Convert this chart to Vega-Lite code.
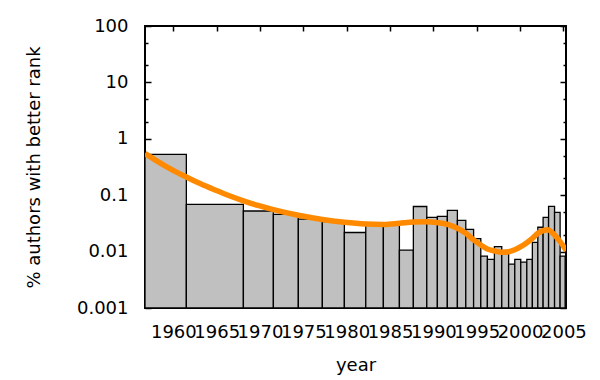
{
  "$schema": "https://vega.github.io/schema/vega-lite/v6.json",
  "width": 421,
  "height": 282,
  "autosize": "none",
  "padding": {"left": 145, "top": 26, "right": 34, "bottom": 72},
  "background": "white",
  "config": {
    "view": {"stroke": "black", "strokeWidth": 2},
    "font": "DejaVu Sans",
    "axis": {
      "labelFont": "DejaVu Sans",
      "titleFont": "DejaVu Sans",
      "labelFontSize": 18,
      "titleFontSize": 18,
      "titleFontWeight": "normal",
      "labelColor": "black",
      "titleColor": "black",
      "tickColor": "black",
      "tickWidth": 1.5,
      "domain": false,
      "grid": false,
      "labelOverlap": false,
      "labelFlush": false
    }
  },
  "datasets": {
    "bars": [
      {"start": 1956.73, "end": 1961.5, "value": 0.53},
      {"start": 1961.5, "end": 1968.08, "value": 0.069},
      {"start": 1968.08, "end": 1971.54, "value": 0.0525},
      {"start": 1971.54, "end": 1974.42, "value": 0.0458},
      {"start": 1974.42, "end": 1977.19, "value": 0.0375},
      {"start": 1977.19, "end": 1979.73, "value": 0.034},
      {"start": 1979.73, "end": 1982.2, "value": 0.0218},
      {"start": 1982.2, "end": 1984.23, "value": 0.0296},
      {"start": 1984.23, "end": 1986.08, "value": 0.031},
      {"start": 1986.08, "end": 1987.69, "value": 0.0106},
      {"start": 1987.69, "end": 1989.24, "value": 0.063},
      {"start": 1989.24, "end": 1990.46, "value": 0.0406},
      {"start": 1990.46, "end": 1991.61, "value": 0.0422},
      {"start": 1991.61, "end": 1992.77, "value": 0.054},
      {"start": 1992.77, "end": 1993.74, "value": 0.0359},
      {"start": 1993.74, "end": 1994.64, "value": 0.0248},
      {"start": 1994.64, "end": 1995.47, "value": 0.017},
      {"start": 1995.47, "end": 1996.23, "value": 0.0083},
      {"start": 1996.23, "end": 1997.04, "value": 0.0073},
      {"start": 1997.04, "end": 1997.89, "value": 0.0123},
      {"start": 1997.89, "end": 1998.68, "value": 0.0104},
      {"start": 1998.68, "end": 1999.39, "value": 0.006},
      {"start": 1999.39, "end": 2000.08, "value": 0.0073},
      {"start": 2000.08, "end": 2000.78, "value": 0.0065},
      {"start": 2000.78, "end": 2001.42, "value": 0.0073},
      {"start": 2001.42, "end": 2002.05, "value": 0.0146},
      {"start": 2002.05, "end": 2002.66, "value": 0.027},
      {"start": 2002.66, "end": 2003.29, "value": 0.0406},
      {"start": 2003.29, "end": 2003.98, "value": 0.0636},
      {"start": 2003.98, "end": 2004.62, "value": 0.0498},
      {"start": 2004.62, "end": 2005.2, "value": 0.0083}
    ],
    "curve": [
      {"year": 1956.73, "value": 0.549},
      {"year": 1957.89, "value": 0.424},
      {"year": 1959.04, "value": 0.332},
      {"year": 1960.19, "value": 0.265},
      {"year": 1961.5, "value": 0.210},
      {"year": 1963.08, "value": 0.161},
      {"year": 1964.81, "value": 0.124},
      {"year": 1966.54, "value": 0.0968},
      {"year": 1968.08, "value": 0.0796},
      {"year": 1969.77, "value": 0.0657},
      {"year": 1971.54, "value": 0.0553},
      {"year": 1974.42, "value": 0.0440},
      {"year": 1977.19, "value": 0.0371},
      {"year": 1979.73, "value": 0.0332},
      {"year": 1982.2, "value": 0.0309},
      {"year": 1984.23, "value": 0.0303},
      {"year": 1986.08, "value": 0.0318},
      {"year": 1987.69, "value": 0.0335},
      {"year": 1989.24, "value": 0.034},
      {"year": 1990.46, "value": 0.0326},
      {"year": 1991.61, "value": 0.0303},
      {"year": 1992.77, "value": 0.0259},
      {"year": 1993.74, "value": 0.0211},
      {"year": 1994.64, "value": 0.0161},
      {"year": 1995.47, "value": 0.0131},
      {"year": 1996.23, "value": 0.0111},
      {"year": 1997.04, "value": 0.0103},
      {"year": 1997.89, "value": 0.0097},
      {"year": 1998.68, "value": 0.0099},
      {"year": 1999.39, "value": 0.0108},
      {"year": 2000.08, "value": 0.0122},
      {"year": 2000.78, "value": 0.0144},
      {"year": 2001.42, "value": 0.0172},
      {"year": 2002.05, "value": 0.0211},
      {"year": 2002.66, "value": 0.0236},
      {"year": 2003.2, "value": 0.0245},
      {"year": 2003.98, "value": 0.0197},
      {"year": 2004.62, "value": 0.015},
      {"year": 2005.35, "value": 0.0104}
    ]
  },
  "resolve": {"axis": {"x": "independent", "y": "independent"}},
  "layer": [
    {
      "data": {"name": "bars"},
      "mark": {"type": "rect", "fill": "#c0c0c0", "stroke": "black", "strokeWidth": 1.3, "clip": true},
      "encoding": {
        "x": {
          "field": "start", "type": "quantitative",
          "scale": {"domain": [1956.73, 2005.3], "nice": false, "zero": false},
          "axis": {
            "orient": "bottom",
            "values": [1960, 1965, 1970, 1975, 1980, 1985, 1990, 1995, 2000, 2005],
            "format": "d",
            "tickSize": -5,
            "labelPadding": 20,
            "title": "year",
            "titlePadding": 15
          }
        },
        "x2": {"field": "end"},
        "y": {
          "field": "value", "type": "quantitative",
          "scale": {"type": "log", "domain": [0.001, 100], "nice": false},
          "axis": {
            "orient": "left",
            "values": [0.001, 0.002, 0.005, 0.01, 0.02, 0.05, 0.1, 0.2, 0.5, 1, 2, 5, 10, 20, 50, 100],
            "format": "~g",
            "labelExpr": "indexof([0.001, 0.01, 0.1, 1, 10, 100], datum.value) >= 0 ? datum.label : ''",
            "tickSize": {"condition": {"test": "indexof([0.001, 0.01, 0.1, 1, 10, 100], datum.value) >= 0", "value": -6}, "value": -3},
            "labelPadding": 23,
            "title": "% authors with better rank",
            "titlePadding": 33
          }
        },
        "y2": {"datum": 0.001}
      }
    },
    {
      "data": {"name": "curve"},
      "mark": {"type": "line", "color": "#ff8a00", "strokeWidth": 5.5, "interpolate": "monotone", "clip": true},
      "encoding": {
        "x": {
          "field": "year", "type": "quantitative",
          "axis": {
            "orient": "top",
            "values": [1960, 1965, 1970, 1975, 1980, 1985, 1990, 1995, 2000, 2005],
            "labels": false,
            "tickSize": -5,
            "title": null
          }
        },
        "y": {
          "field": "value", "type": "quantitative",
          "axis": {
            "orient": "right",
            "values": [0.001, 0.002, 0.005, 0.01, 0.02, 0.05, 0.1, 0.2, 0.5, 1, 2, 5, 10, 20, 50, 100],
            "labels": false,
            "tickSize": {"condition": {"test": "indexof([0.001, 0.01, 0.1, 1, 10, 100], datum.value) >= 0", "value": -6}, "value": -3},
            "title": null
          }
        }
      }
    }
  ]
}
